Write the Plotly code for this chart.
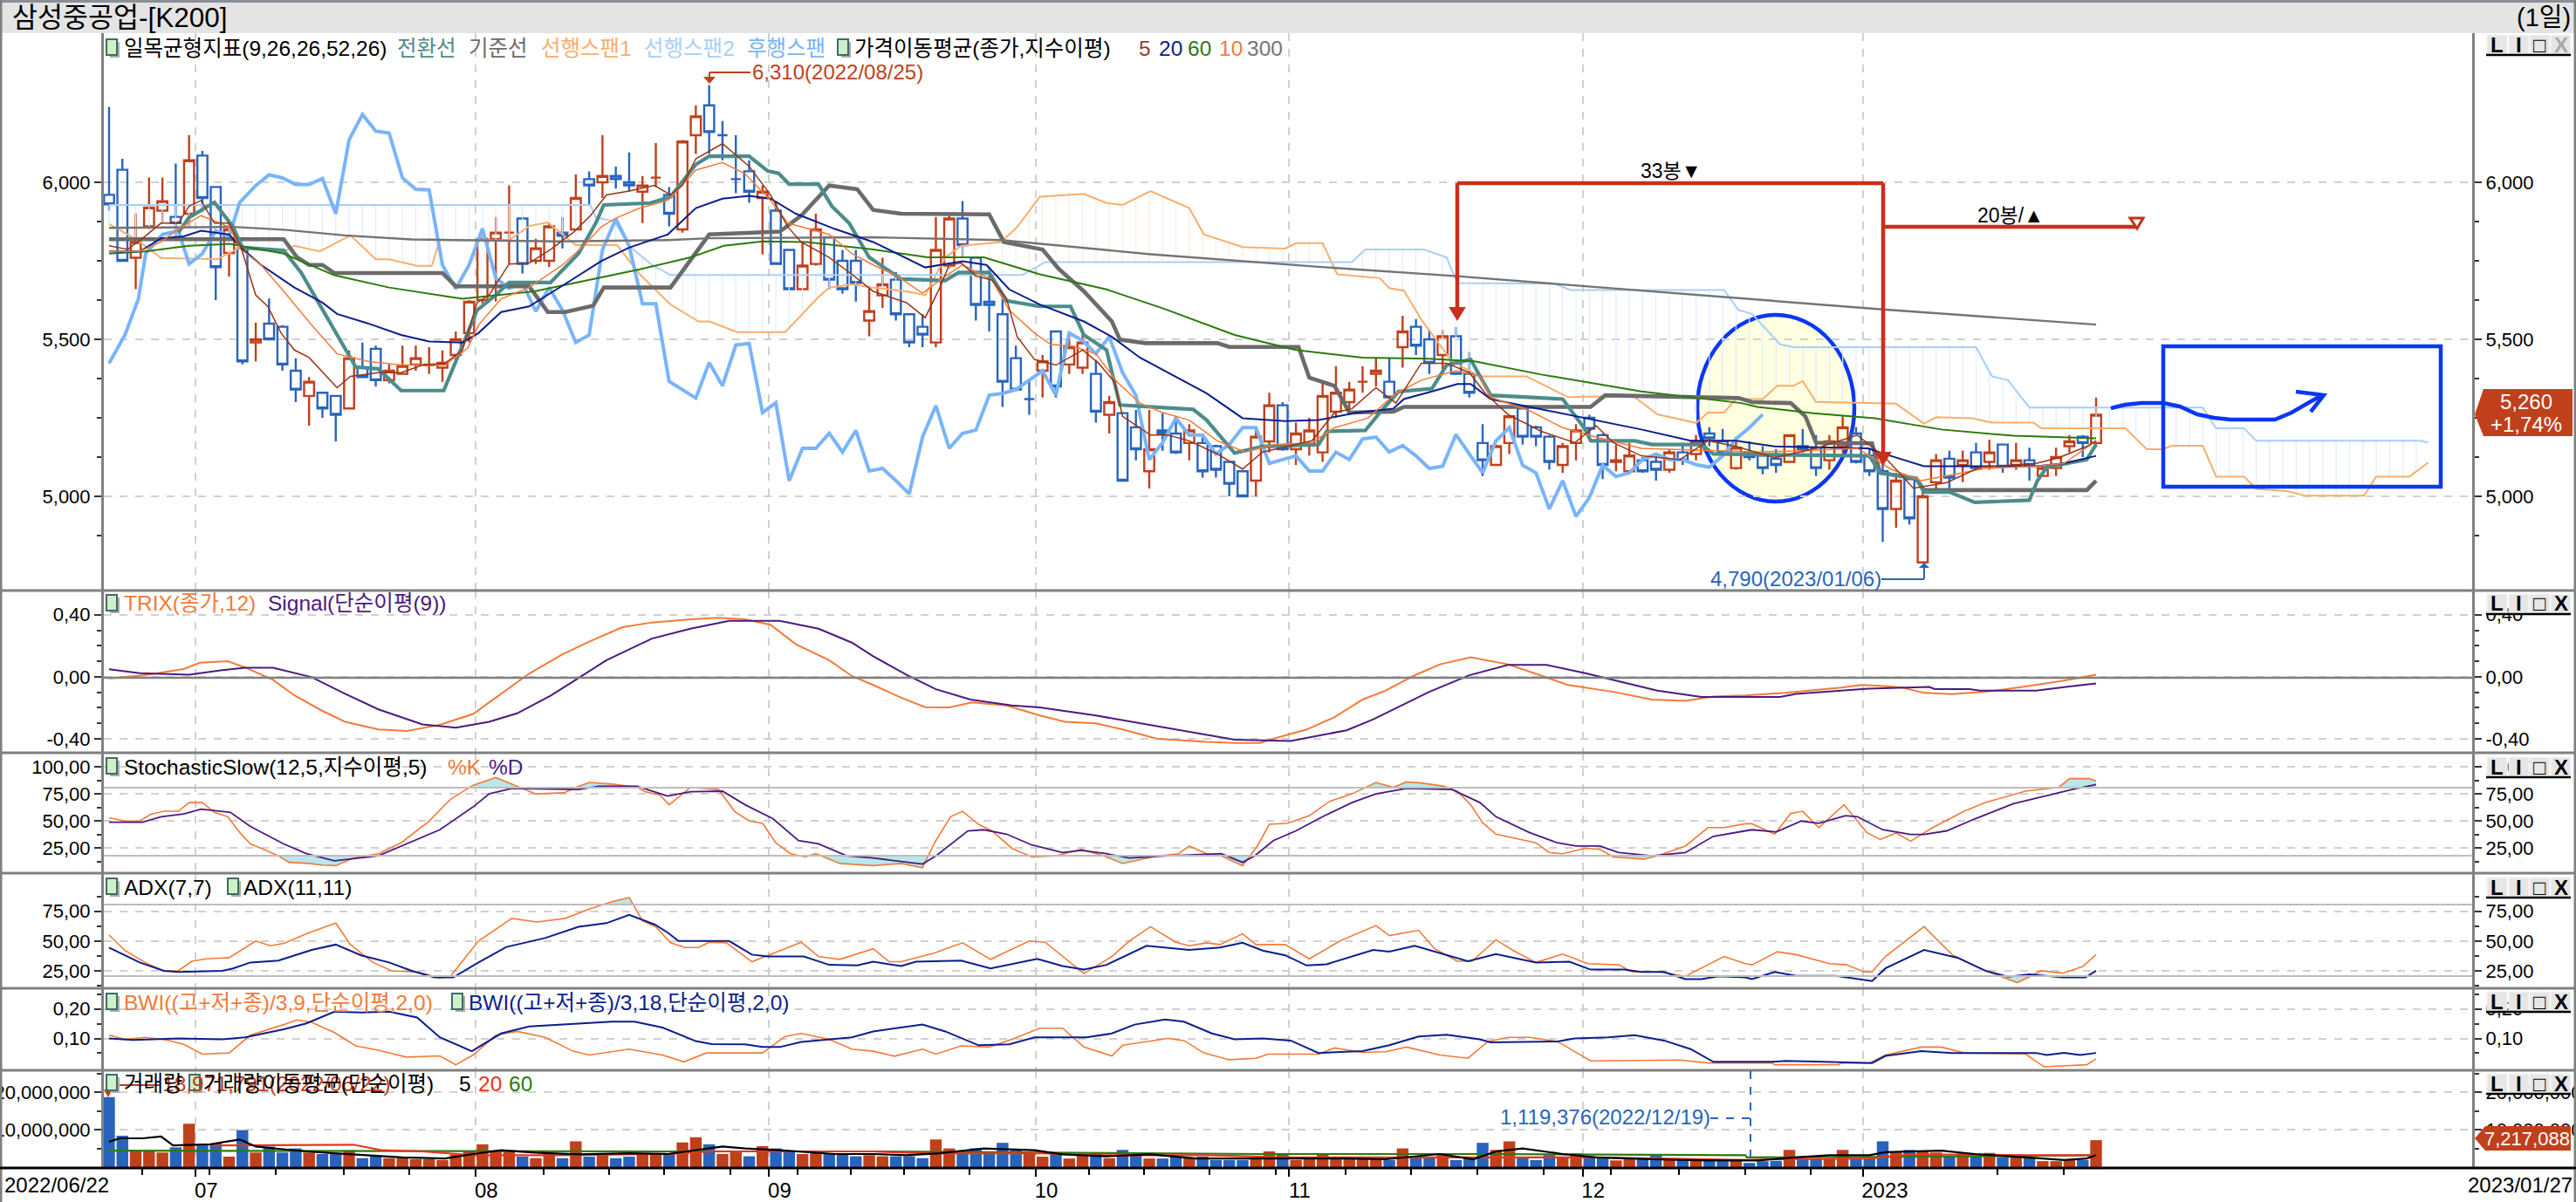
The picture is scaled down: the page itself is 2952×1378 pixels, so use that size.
import numpy as np
import plotly.graph_objects as go

W, H = 2952, 1378
FONT = "Liberation Sans, Noto Sans CJK KR, sans-serif"
RED, BLUE = "#c0401c", "#2864bd"

# ---- candles (won) ----
open_prices = [5960,6040,5760,5860,5910,5890,5900,6085,5985,5775,
 5790,5490,5550,5540,5400,5320,5330,5320,5280,5410,
 5470,5370,5390,5420,5418,5410,5450,5520,5625,5820,
 5840,5885,5750,5750,5840,5850,6010,6000,6020,6000,
 5970,6015,5960,5850,6150,6245,6150,6010,6035,5950,
 5910,5785,5660,5740,5825,5750,5750,5560,5640,5690,
 5580,5540,5490,5735,5885,5760,5620,5580,5440,5310,
 5400,5525,5420,5410,5390,5260,5265,5220,5080,5210,
 5200,5170,5170,5160,5110,5080,5050,5175,5290,5150,
 5165,5140,5270,5300,5365,5390,5365,5475,5540,5500,
 5450,5510,5390,5170,5100,5170,5280,5220,5190,5100,
 5170,5250,5195,5110,5080,5115,5110,5085,5140,5135,
 5200,5175,5090,5140,5130,5120,5110,5160,5155,5115,
 5160,5200,5130,5080,4960,5055,4790,5045,5120,5100,
 5140,5110,5165,5100,5115,5065,5090,5160,5190,5170]
close_prices = [5930,5750,5810,5920,5940,5870,6070,5950,5730,5850,
 5430,5500,5500,5420,5340,5365,5280,5260,5440,5380,
 5370,5400,5415,5440,5420,5425,5500,5620,5820,5840,
 5840,5740,5790,5860,5830,5950,5990,6020,6010,5990,
 5990,6015,5900,6130,6210,6160,6150,6010,5970,5970,
 5740,5660,5735,5850,5690,5660,5680,5590,5675,5580,
 5490,5515,5785,5885,5800,5610,5610,5365,5340,5310,
 5430,5350,5475,5490,5270,5300,5050,5150,5150,5200,
 5140,5210,5080,5085,5040,5000,5190,5290,5150,5200,
 5210,5320,5330,5340,5365,5400,5315,5525,5480,5425,
 5510,5390,5330,5115,5160,5255,5190,5190,5110,5160,
 5210,5215,5100,5115,5130,5080,5085,5140,5115,5175,
 5185,5140,5155,5125,5090,5100,5195,5150,5090,5175,
 5220,5110,5080,4960,5050,4930,5000,5115,5060,5115,
 5090,5140,5095,5115,5100,5090,5125,5175,5170,5260]
high_prices = [6240,6075,5900,6015,6015,6060,6150,6100,5985,5870,
 5790,5553,5630,5545,5440,5380,5330,5320,5465,5490,
 5480,5420,5480,5480,5475,5465,5525,5625,5850,5890,
 5990,5890,5820,5870,5890,6025,6035,6150,6050,6095,
 6020,6125,5985,6135,6245,6310,6195,6150,6070,5990,
 5940,5785,5810,5900,5825,5785,5785,5665,5760,5715,
 5580,5580,5890,5895,5940,5760,5730,5630,5480,5375,
 5450,5525,5520,5520,5435,5320,5265,5275,5275,5265,
 5255,5230,5200,5165,5110,5080,5220,5330,5300,5235,
 5250,5365,5415,5365,5415,5440,5440,5575,5565,5530,
 5530,5540,5460,5230,5165,5260,5285,5225,5195,5170,
 5230,5260,5200,5165,5170,5125,5130,5150,5170,5195,
 5220,5215,5190,5175,5160,5150,5195,5215,5195,5195,
 5255,5220,5155,5130,5075,5055,5025,5135,5145,5145,
 5170,5180,5165,5170,5155,5095,5155,5195,5195,5315]
low_prices = [5910,5750,5660,5850,5870,5820,5860,5905,5625,5700,
 5420,5430,5500,5400,5300,5225,5250,5175,5280,5380,
 5350,5360,5390,5400,5390,5365,5435,5490,5615,5620,
 5740,5710,5740,5730,5790,5850,5930,5950,5980,5970,
 5870,5985,5860,5840,6090,6090,6070,5965,5935,5770,
 5740,5660,5660,5735,5660,5645,5620,5510,5600,5560,
 5475,5475,5475,5725,5760,5560,5525,5285,5335,5260,
 5315,5315,5390,5390,5235,5200,5050,5115,5025,5145,
 5135,5115,5060,5060,5000,5000,5000,5140,5145,5100,
 5130,5110,5250,5260,5330,5350,5315,5410,5450,5390,
 5390,5390,5315,5065,5100,5135,5165,5160,5085,5075,
 5115,5185,5055,5080,5075,5075,5050,5075,5100,5115,
 5160,5125,5085,5115,5070,5075,5110,5140,5065,5085,
 5140,5105,5065,4855,4900,4910,4790,5025,5015,5045,
 5085,5085,5075,5085,5050,5065,5065,5140,5125,5165]
volume_millions = [18.7,8.4,4.4,4.2,3.9,5.3,11.6,5.8,6.3,2.8,9.9,3.9,5.5,3.9,5.0,3.9,3.5,3.5,4.5,2.4,
 2.9,2.4,2.6,2.1,2.1,1.9,3.4,4.2,6.1,4.2,4.2,2.8,2.4,3.7,2.4,6.9,2.8,3.7,2.4,2.8,
 3.5,3.5,3.5,6.6,8.0,6.1,3.5,4.0,2.9,5.6,5.0,4.2,3.5,4.0,3.5,3.5,2.9,3.2,2.9,2.9,
 2.9,2.4,7.4,5.0,4.0,5.0,4.2,6.5,4.5,4.0,2.8,3.7,2.3,3.4,3.7,2.4,4.6,3.2,2.3,2.3,
 2.8,2.6,2.8,1.9,1.9,1.9,2.6,4.2,3.5,1.9,2.6,3.7,2.6,2.3,2.1,2.6,1.9,5.0,2.4,2.4,
 3.5,1.9,2.3,6.5,4.6,6.9,2.8,1.9,3.2,2.4,3.7,2.4,2.4,1.8,2.4,2.1,3.2,1.9,1.9,1.9,
 2.1,1.6,1.9,1.12,1.6,1.7,4.6,2.3,2.3,2.3,4.6,2.4,2.4,6.9,3.9,4.6,4.2,3.9,2.8,3.7,
 2.8,3.8,2.6,2.6,2.6,1.6,1.6,2.1,1.9,7.217]

# ---- ichimoku ----
tenkan_x = [5.2,6,7.9,9.3,10,13.1,14.4,16.2,17,18.5,20.2,21.9,25.1,27.6,29,30,33.1,35.2,36.5,37.1,40.6,42.1,44,45,48,49.4,50.2,51,53.2,54.2,55.5,57,59.4,62.7,63.7,66,67.3,69.8,72.1,73.1,74.8,75.8,81.3,82.3,84.4,86.5,90.7,91.3,94.2,95.3,96.7,99.2,100.3,102.1,103.6,109,110.7,111.1,114.4,115.7,119.4,120.3,132,132.8,135.5,136.1,138,139.9,144,144.6,145.3,148.3,149]
tenkan_y = [5840,5888,5936,5858,5792,5783,5713,5581,5520,5412,5406,5337,5337,5593,5641,5681,5681,5773,5870,5928,5934,5954,6057,6083,6083,6036,6029,5994,5994,5924,5870,5761,5692,5687,5713,5713,5623,5605,5605,5514,5466,5291,5277,5243,5138,5159,5165,5207,5210,5267,5334,5343,5418,5436,5322,5310,5213,5177,5177,5165,5165,5135,5129,5075,5057,5014,5014,4981,4988,5050,5093,5117,5165]
kijun_x = [0,13.1,14.1,15,16,16.9,25,26,31.5,32.9,34.2,36.3,37.1,42.1,45,50.3,51.9,54,56.1,57.3,59.4,66,67.1,70,71.2,73.1,75.2,75.8,77.7,83.1,84,89.2,90,91.9,93,96.3,97.1,111.1,112.2,122.2,123.2,126.1,127.2,128,132.2,132.8,135.5,136.1,148.3,149]
kijun_y = [5819,5819,5761,5737,5737,5711,5711,5669,5669,5587,5587,5607,5665,5665,5834,5843,5894,5990,5978,5912,5900,5898,5810,5786,5725,5653,5557,5499,5488,5488,5476,5476,5378,5352,5267,5270,5285,5285,5322,5313,5300,5297,5255,5171,5169,5075,5057,5020,5020,5050]
span_a_x = [0,1.4,2.7,3.9,8.1,9.8,13.1,13.9,15.8,18.1,20,21,23.1,24.2,24.8,30,31.5,32.9,35,38.1,39.8,42.1,44.2,45,47.1,50.7,53.2,54,55.7,57.3,59.8,61.2,62.7,63.9,66.9,68.1,69.8,73.1,74.8,76,78.1,81,82.1,85,88.2,89,91,92.1,95.3,96,97.1,98.4,100.7,102.8,106.3,109.4,111.9,114.4,116.1,119,119.9,121.1,122,124,125.1,126.3,127,128,134,136.1,137,139.7,141.2,144.3,144.9,151.2,152.8,154,154.7,157,158,160.1,161,163.3,164.7,169.1,170,172.5,173.9]
span_a_y = [5867,5834,5798,5759,5755,5792,5780,5798,5780,5831,5755,5755,5734,5734,5816,5816,5861,5872,5800,5800,5707,5611,5557,5557,5523,5523,5635,5665,5675,5665,5653,5641,5761,5798,5810,5858,5954,5963,5934,5928,5972,5918,5834,5794,5789,5806,5806,5707,5695,5663,5655,5563,5430,5382,5382,5316,5318,5316,5261,5234,5267,5267,5310,5310,5352,5352,5367,5301,5295,5231,5252,5249,5235,5235,5217,5217,5150,5150,5161,5161,5063,5063,5024,5017,5002,5002,5063,5063,5108]
span_b_x = [0,36.1,36.5,37.9,39,40.7,42.1,68.5,70.2,93.2,94.2,98.6,100.3,101.1,108.4,109.6,121.1,122.2,123.2,125.3,126.3,140,141.2,142.4,144,157,158,160.1,161,173.3,173.9]
span_b_y = [5928,5928,5888,5876,5798,5737,5705,5705,5746,5746,5786,5786,5761,5679,5677,5657,5657,5593,5581,5484,5475,5475,5382,5370,5283,5283,5217,5217,5177,5177,5171]
chikou_x = [0,1.2,2.2,2.75,4,5.2,6,7,8,9,9.8,11,12,13,14,15,16,17,18,19,20,21,22,23,24,25,26,27,28,29,30,31,32,33,34,35,36,37,38,39,40,41,42,44,45,46,47,48,49,50,51,52,53,54,55,56,57,58,59,60,61,62,63,64,65,66,67,68,70,71,72,73,74,75,76,77,78,79,80,81,82,83,84,85,86,87,88,89,90,91,92,93,94,95,96,97,98,99,100,101,102,103,104,105,106,107,108,109,110,111,112,113,114,115,116,117,118,119,120,121,122,123,124]
chikou_y = [5424,5515,5629,5773,5834,5846,5740,5773,5846,5828,5936,5990,6024,6014,5993,5993,6012,5900,6135,6216,6163,6157,6014,5978,5976,5737,5661,5737,5852,5695,5663,5680,5589,5665,5593,5490,5514,5785,5884,5798,5613,5613,5366,5313,5426,5352,5482,5487,5267,5298,5050,5153,5153,5201,5141,5210,5081,5089,5050,5008,5189,5289,5153,5201,5211,5322,5328,5340,5400,5322,5520,5496,5454,5508,5394,5322,5117,5171,5249,5195,5195,5135,5165,5219,5219,5105,5117,5129,5081,5081,5141,5117,5183,5189,5141,5162,5129,5089,5096,5197,5135,5075,5177,5219,5099,5075,4960,5050,4936,4996,5099,5063,5075,5117,5135,5117,5117,5101,5093,5129,5183,5219,5261]

# ---- moving averages ----
ma5_x = [0,1.4,2.7,3.9,5.2,6,6.9,7.9,9,9.9,11,11.9,12.9,13.9,15,17.1,18.1,20.2,21.9,23.5,25.2,26.5,27.6,28.5,30,31.5,33.1,34.8,36.1,37.3,39,40.9,42.1,43,44,46,48,49.6,50.9,51.9,54,55.7,57.3,59.8,61.2,62.3,63,63.9,65,66.2,67.3,68.1,69.4,71,73,74.2,75.4,76,78.1,79.4,81,83.1,85,86.5,90.2,91.9,93.2,95,96.5,98.4,100.3,102,103.2,104.9,107.4,109.9,111.5,112.8,114.9,117.8,119.9,122,124.9,128,131.1,133.2,135.3,137.8,140.3,144.5,146.2,148.3,149]
ma5_y = [5798,5786,5828,5870,5870,5924,5942,5870,5870,5792,5641,5605,5520,5466,5442,5346,5382,5394,5394,5418,5424,5466,5617,5641,5740,5743,5786,5840,5894,5960,5972,5990,5960,5990,6075,6123,6051,5960,5858,5810,5761,5707,5653,5617,5569,5665,5737,5743,5701,5689,5629,5508,5436,5418,5466,5424,5364,5255,5195,5195,5177,5135,5087,5141,5177,5267,5279,5346,5297,5424,5424,5394,5328,5261,5207,5171,5225,5171,5129,5117,5177,5159,5123,5153,5195,5123,5026,5044,5093,5105,5123,5159,5177]
ma10_x = [0,2.3,3.9,5.2,6.9,9,9.9,11.4,13.1,15.2,17.1,19.4,21.9,25.2,26.9,27.7,29.4,31.5,34,35.6,36.9,38.1,39.8,41.9,44,46,47.7,49.6,50.9,54,55.7,57.3,59.1,61,62.5,64,66.2,67.5,69.4,70.6,72.3,74,75.6,77.3,79,81,83.1,85.2,87.3,90.2,91.9,94.4,96.5,98.4,101,102.8,103.6,106.5,109,111.5,114.9,119,123.6,127.8,131.1,133.6,135.9,138.2,140.7,144.5,146.6,149]
ma10_y = [5780,5780,5810,5852,5894,5858,5786,5737,5653,5545,5454,5430,5418,5418,5472,5545,5629,5665,5737,5798,5858,5888,5918,5942,6039,6063,6027,5942,5870,5834,5773,5737,5701,5647,5695,5737,5689,5593,5520,5484,5478,5454,5364,5297,5267,5243,5177,5141,5165,5171,5219,5249,5328,5370,5400,5382,5316,5273,5219,5189,5153,5147,5141,5147,5153,5087,5050,5069,5089,5096,5105,5177]
ma20_x = [0,2.3,3.9,5.6,6.9,9,9.9,11.4,13.9,16,17.1,19.4,21.9,24,26.5,27.7,29.4,31.5,34,36.9,39,41.9,44,46,48,49.6,51.5,54.4,57.3,61.2,64,65.8,67.5,69.8,73.1,75.2,77.3,79.4,82.3,85,88.2,90.7,93.6,96.3,97.1,99.2,101.1,102.1,103.6,106.5,111.5,114.9,118.6,122,124.9,127.8,131.9,133.6,136.1,140.3,144.5,146.6,149]
ma20_y = [5780,5780,5822,5828,5846,5834,5792,5737,5665,5617,5581,5551,5514,5493,5490,5520,5587,5605,5671,5749,5792,5834,5918,5948,5957,5948,5900,5852,5810,5729,5749,5737,5659,5611,5557,5508,5442,5394,5328,5249,5240,5243,5267,5279,5310,5334,5358,5358,5310,5285,5243,5213,5177,5177,5159,5156,5153,5129,5096,5096,5096,5105,5129]
ma60_x = [0,2.7,6,9,13.1,16.9,21,26.5,31.9,35.2,39.8,43.6,46.1,49,52.3,57.3,61.4,65.6,69.8,74.8,79,84.4,89,94,99,102.4,107.4,114.9,122.4,123.6,127.8,132.4,137.4,142.8,149]
ma60_y = [5773,5780,5798,5804,5773,5704,5665,5629,5653,5683,5723,5761,5798,5812,5810,5786,5761,5761,5707,5659,5599,5514,5466,5442,5438,5430,5388,5334,5297,5285,5265,5249,5213,5193,5185]
ma300_x = [0,9.3,13.1,17.7,22.7,33.6,41.9,45,57.3,66.9,78.1,90.7,101.1,115.7,119.4,132.8,149]
ma300_y = [5855,5858,5849,5831,5818,5812,5816,5822,5825,5816,5771,5731,5701,5653,5641,5596,5547]

# ---- TRIX ----
trix_x = [0,2.7,5.6,6.8,8.9,10.2,12.3,13.9,16,17.7,20.2,22.3,24.8,27.3,29.4,31.5,34,36,38.5,40.7,43.6,45.7,47.7,49.6,51.5,54,55.7,57.3,59.4,61.2,63,64.7,67.3,69.8,71.7,74,76,78.6,82.3,84.4,86.3,87.7,89.8,91.9,94,95.7,97.8,99.8,102.1,104.9,107.2,109.4,112.8,115.7,118.2,120.3,122.7,125.7,129.9,131.4,132.8,134.5,136.1,138.2,140.7,143.7,146.6,149]
trix_y = [-.01,.01,.05,.09,.10,.06,-.02,-.12,-.22,-.29,-.34,-.35,-.31,-.24,-.11,.02,.145,.226,.32,.35,.37,.38,.37,.335,.21,.107,.005,-.053,-.135,-.196,-.198,-.165,-.185,-.25,-.29,-.30,-.34,-.40,-.42,-.427,-.427,-.39,-.34,-.26,-.147,-.09,.005,.08,.125,.08,.013,-.053,-.097,-.147,-.155,-.127,-.12,-.104,-.07,-.053,-.058,-.07,-.104,-.112,-.097,-.063,-.025,.013]
signal_x = [0,2.3,6,8.5,10.2,12.3,15.2,17.7,20.2,23.5,26,28.5,30.6,33.1,35.2,37.3,40.7,43.6,46.5,50.3,53.2,55.7,57.3,59.8,62,64.6,67.7,69.8,74,77.3,81.9,84.4,88.6,92.8,94.8,99,102,104.9,107.8,110.7,116.1,119.4,125.3,126.5,131.9,136.5,136.9,139.5,140.3,144.5,147,149]
signal_y = [.048,.023,.013,.043,.058,.058,-.003,-.11,-.21,-.307,-.328,-.29,-.236,-.122,-.008,.107,.246,.31,.36,.36,.31,.22,.132,.013,-.08,-.147,-.185,-.198,-.25,-.30,-.368,-.406,-.414,-.345,-.274,-.097,.01,.076,.076,.023,-.089,-.13,-.13,-.11,-.076,-.066,-.079,-.079,-.089,-.089,-.063,-.043]

# ---- Stochastic ----
stoch_k_x = [0,1.2,2.3,3.1,4.1,5.2,6,7,7.9,8.9,9.8,10.6,11.6,12.7,13.5,15,16,17,18.3,20.2,21.9,24,25.6,27.3,29,30.4,32,34.1,35.2,36,37.7,39.6,40.2,41.3,42,43.6,45.7,46.9,48,49,50,51.1,52.2,53,53.8,54.8,57.3,59.4,61,61.9,63.1,64,65.2,66.2,67.7,69.2,71,72.9,74.6,76,78.6,80.2,81,82.3,83.4,85,86.1,87,88.4,90,91.5,93.2,95,96.3,97.3,98.4,100.1,101.1,102.1,103,104,107,108,109,110.7,111.8,112.8,115.1,116.1,118.2,119.9,121.1,122.7,123.2,124.9,126.1,127,128.2,130.1,131.8,132.8,134,135.1,136.6,139.1,140.7,143.7,146.2,147,148.5,149]
stoch_k_y = [53,50,50,56,59,59,67,67,58,54,39.5,29,24,18,12,11,9.5,9,16,20,30,50,70,83,90,83,75,76,82,85.5,84,81,77,74,65,81,79,59,50,48,30,20,17,20,16,11,9,11,7,30,54,59,47,41,25,17,18,24,18,11,18,20,27,20,18,9,27,47,48,55,68,75,85.5,81,86,85,82,77.5,65,48.5,38,30,21,20,25,24,17,15,18,27,44,44,47.5,47.5,38,57,59,44,65,39.5,33,39,31.5,43,59,67,77.5,81,89,89,87]
stoch_d_x = [0,2.5,3.9,5.6,6.9,9.1,10.6,13.1,14.8,16.9,20.2,21.9,24.8,27.3,28.5,30.2,35.2,36.7,39.6,41.9,43.6,46,47.7,49.8,51.7,53.2,55.3,57.3,61,62,64.4,65.6,67.3,69.2,71.5,72.9,74.8,76.5,79.4,83.4,85,85.9,87.3,89,91,93.2,95,97.3,100.7,102.8,104,106.5,108.6,110,111.8,113.2,115.7,118.2,120.3,122.7,123.2,125,126.9,128.2,130.2,131.1,133,135.1,136.1,137.8,139.9,142.8,145.4,147.2,149]
stoch_d_y = [49,49,54,56.5,61,58,45,29,20,13.4,18,27,42,63,75,80,79,82,82,73,77,77.5,65,52,32,29,18,16,10.5,18,41,42,38,28,21,23,20,16,18,20,12,18,32,41,54,67,75,80,79,67,54,39.5,30,27,27,21,18,21,36,41,42,40,50,48,55,54,42,37.7,37.7,41,52,66,74,79,83.6]

# ---- ADX ----
adx7_x = [0,1.2,2.7,4.1,5.2,6.2,7.3,9,11,12.1,13.1,15,17,18.1,19.8,21.2,23.1,24.8,25.6,27.7,30.2,32.1,34.2,36,37.7,39,40,41,42.1,43.2,44.2,45,46.3,48.2,49.6,51.9,53.2,54.8,57.3,58.5,59.4,61.9,64,66.1,69,70.2,73.1,75.2,76.5,78.1,80,81,82.3,83.3,85,86,88.2,90,92.3,95,96,98.2,99.4,101.1,102.2,104,105.3,107,109,110.9,113.2,114.2,116.3,118.2,121.1,122.7,123.2,125.1,126.5,129,130.3,131.6,132.2,133.2,136.1,138.2,140.7,143.1,144.9,146.5,148,149]
adx7_y = [55,42,32,25,25,33,35,36,50,46,48,57,65,47,32,25,24,19,20.4,50,69,66,69,76.7,83,86.6,67,62,48.5,44.5,44.5,49,48.5,32.6,38.6,49,37,34.6,43.5,32.6,32.6,40,48.5,34.6,50,49,22.7,37,50,62,49,46,48.5,47,56,47,47,35,50,63,54.5,59,43.5,33,33,51,42,32,39,31,30,24,24,20.4,37,31,30,41,38.6,31,30,24,24,37,62,38.6,25,15,25,23,28.6,38.6]
adx11_x = [0,2.3,4.1,5.2,8.5,9.3,10.6,12.7,15.2,17,18.9,21,22.7,24.4,25.8,27.7,29.8,32.7,35.2,37.3,39,40.9,41.9,42.7,46.5,48.2,49.4,52.1,54,56.1,57.3,59.4,60.5,63.9,66.1,69.6,71.5,73.1,74.8,77.8,81,83.3,85,86.5,88.2,89.8,91.3,94.8,96,97.9,101.9,104,107,109.5,111.1,113.6,114.9,116.6,118.2,119.4,120.7,122.7,123.2,124.9,126.5,129.5,132.2,133.2,136.1,138.6,140.7,142.4,144,146.5,148.2,149]
adx11_y = [44.5,32,25,24,25,27,32,33.6,42.5,47,38,32,25,19.4,19.4,32,45,52.5,62,65,72,64,57,50,50,38.6,37,37,30,29.5,32.6,29,32.6,33.6,27,35,29,26,30,46,42.5,44.5,48.5,42,38,29.5,30.5,42.5,41,46,33,39,32,32.6,26,26,24,24,18,18,20.4,19.4,18,24,20.7,20.7,16.4,27,42.5,36,25,20,22,19.4,19.4,25]

# ---- BWI ----
bwi9_x = [0,1.2,2.7,4.3,5.6,7,9,10.6,13.1,14.1,15.2,16.9,18.5,20.2,22.3,24.8,26,27.3,29,30.6,32.7,34.8,36,39,41.5,43.1,44.8,49,50.7,51.9,54,55.7,57.3,58.9,61,62,63.9,66,67.7,69.8,71.5,73.1,75.2,76,79.4,80.6,82.1,84,86,86.9,90.7,91.9,94,95.7,97.3,99.8,101.9,103.4,104.9,106.5,108.6,111.1,117.8,119.9,124.7,124.9,129.7,129.9,132,133.2,135.9,137.4,139.1,143.7,145.1,148.3,149]
bwi9_y = [.111,.097,.104,.095,.08,.047,.051,.111,.147,.163,.155,.12,.075,.06,.037,.041,.011,.044,.111,.124,.104,.057,.044,.064,.044,.021,.051,.051,.107,.117,.097,.064,.057,.04,.064,.047,.075,.071,.097,.135,.135,.071,.041,.077,.10,.093,.051,.028,.033,.047,.047,.068,.053,.055,.071,.044,.033,.09,.104,.104,.09,.024,.027,.017,.017,.011,.011,.017,.017,.044,.071,.071,.051,.048,.004,.011,.031]
bwi18_x = [0,1.8,5.2,8.5,10.2,13.1,14.8,16.9,18.9,21,23.1,24.8,27.2,29.4,31.5,34,37.7,39.4,41.5,44,45.2,47.7,49,50.3,51.9,55.7,57.3,61,62.7,65.2,67.5,69.4,73.3,75.2,76.9,79.2,80.6,82.7,84.4,86.5,88.6,90.7,94,96,98.2,100.3,102.8,103.6,108.6,109.9,112.4,114.4,116.6,118.6,120.3,124.7,125.7,128.6,132.2,133.2,135.9,138.2,144.5,145.3,146.6,147.8,149]
bwi18_y = [.10,.095,.10,.097,.104,.131,.151,.191,.188,.191,.171,.104,.057,.117,.141,.147,.157,.157,.137,.091,.081,.08,.071,.071,.088,.104,.124,.147,.124,.077,.08,.104,.104,.117,.147,.164,.157,.117,.097,.10,.093,.051,.057,.077,.107,.113,.097,.087,.09,.10,.104,.111,.093,.064,.021,.021,.024,.021,.017,.041,.057,.051,.051,.044,.051,.044,.051]

# ---- volume moving averages (millions) ----
vol_ma5_x = [0,.8,2.5,3.9,4.8,6,7.6,9.8,11,12.7,14.8,16.9,19,22,25.2,27.3,29.4,31.9,35.2,39,41.9,44,46,47.7,50.3,54.4,57.3,59.8,62.3,65.6,69.4,71.5,74.8,78.1,81.5,86.5,92.8,95.7,99.8,102.3,104,106,109,111.5,115.7,119.9,123.6,126.5,129,132,133.2,137.4,139.9,144.5,146.6,148.3,149]
vol_ma5_y = [6.8,7.7,7.7,8.2,5.8,6,6.1,7.4,5.5,4.9,4.2,3.7,3.2,2.6,2.3,3.5,4.5,3.9,3.4,3.7,3.5,4.5,5.5,5,4.5,3.5,3.5,3.2,3.7,5,4.5,3.4,2.9,3.4,2.3,2.3,2.3,2.1,3.5,2.1,4.2,5,3.5,2.6,2.1,1.8,1.8,2.6,3.2,3.2,4,4.4,3.5,2.4,1.9,2.3,3.2]
vol_ma20_x = [7.7,18.3,20.5,23.5,27.3,33.6,41.9,45.2,57.3,61.4,69.8,74,82.3,88.6,103.2,111.5,122.7,124.9,132,135.2,144.5,149]
vol_ma20_y = [5.8,6,4.5,4.2,3.2,3.2,3.5,4.2,4.2,3.7,3.7,3.2,3.2,2.6,2.6,2.6,1.9,2.1,2.3,3.4,3.2,3.2]
vol_ma60_x = [0,23.5,41.9,57.3,69.8,86.5,103.2,122.7,122.8,136.1,149]
vol_ma60_y = [4.4,4.2,4.2,4.2,3.9,3.5,3.5,3.2,2.6,2.8,3.2]

# ---- axes ----
month_ticks = [6.5,27.5,49.5,69.5,88.5,110.5,131.5]
month_labels = ["07","08","09","10","11","12","\u00a0\u00a0\u00a0\u00a02023"]
week_ticks = [2.5,7.5,12.5,17.6,22.5,32.6,37.5,41.6,46.6,51.6,55.6,59.6,64.5,73.5,77.6,82.5,87.5,92.7,97.6,102.6,107.6,112.6,117.7,122.7,127.6,141.6,146.6]

panels = [
 dict(top=38, bot=676, rng=[4703.0,6475.0], vals=[5000,5500,6000], text=["5,000","5,500","6,000"], minor=[4875,5125,5250,5375,5625,5750,5875]),
 dict(top=677, bot=863, rng=[-0.49,0.556], vals=[-0.4,0,0.4], text=["-0,40","0,00","0,40"], minor=[-.3,-.2,-.1,.1,.2,.3]),
 dict(top=863, bot=1001, rng=[2.1,112.8], vals=[25,50,75,100], text=["25,00","50,00","75,00","100,00"], minor=[12.5,37.5,62.5,87.5]),
 dict(top=1001, bot=1133, rng=[10.3,107], vals=[25,50,75], text=["25,00","50,00","75,00"], minor=[12.5,37.5,62.5,87.5]),
 dict(top=1133, bot=1227, rng=[-0.0077,0.27], vals=[0.1,0.2], text=["0,10","0,20"], minor=[.05,.15,.25]),
 dict(top=1227, bot=1338, rng=[0,25.9], vals=[10,20], text=["10,000,000","20,000,000"], minor=[5,15,25]),
]

fig = go.Figure()
idx = list(range(150))


def line(xs, ys, color, width, ax, name=""):
    fig.add_trace(go.Scatter(x=xs, y=ys, mode="lines", line=dict(color=color, width=width),
                             yaxis=ax, hoverinfo="skip", showlegend=False, name=name))


# hatch between the two cloud spans
grid_c = np.arange(0, 174)
sa = np.interp(grid_c, span_a_x, span_a_y)
sb = np.interp(grid_c, span_b_x, span_b_y)
for cond, col in ((sa > sb, "#fdebd8"), (sb >= sa, "#dfecfc")):
    hx, hy = [], []
    for i, c in zip(grid_c, cond):
        if c:
            hx += [i, i, None]
            hy += [sa[i], sb[i], None]
    line(hx, hy, col, 1.2, "y")

fig.add_trace(go.Candlestick(
    x=idx, open=open_prices, high=high_prices, low=low_prices, close=close_prices,
    increasing=dict(line=dict(color=RED, width=2.4), fillcolor="rgba(0,0,0,0)"),
    decreasing=dict(line=dict(color=BLUE, width=2.4), fillcolor="rgba(0,0,0,0)"),
    whiskerwidth=0, hoverinfo="skip", showlegend=False, yaxis="y"))

line(span_a_x, span_a_y, "#f9ae6b", 2, "y")
line(span_b_x, span_b_y, "#a8cffa", 2, "y")
line(chikou_x, chikou_y, "#79b4fc", 4, "y")
line(kijun_x, kijun_y, "#6b6b6b", 4.6, "y")
line(tenkan_x, tenkan_y, "#4d8c8c", 4.2, "y")
line(ma300_x, ma300_y, "#747474", 2.4, "y")
line(ma60_x, ma60_y, "#2c7a0c", 2, "y")
line(ma20_x, ma20_y, "#0a1e8c", 2, "y")
line(ma10_x, ma10_y, "#f47a36", 1.5, "y")
line(ma5_x, ma5_y, "#9a3412", 1.5, "y")

line(trix_x, trix_y, "#f47a36", 2, "y3")
line(signal_x, signal_y, "#4b1a80", 2, "y3")


def zones(xs, ys, low, high, ax):
    g = np.arange(0, 149.01, 0.25)
    v = np.interp(g, xs, ys)
    for level, clipped in ((high, np.maximum(v, high)), (low, np.minimum(v, low))):
        fig.add_trace(go.Scatter(x=g, y=np.full_like(g, level), mode="lines", line=dict(width=0),
                                 yaxis=ax, hoverinfo="skip", showlegend=False))
        fig.add_trace(go.Scatter(x=g, y=clipped, mode="lines", line=dict(width=0), fill="tonexty",
                                 fillcolor="#b8e8ea", yaxis=ax, hoverinfo="skip", showlegend=False))


zones(stoch_k_x, stoch_k_y, 19, 81, "y5")
line(stoch_k_x, stoch_k_y, "#f47a36", 1.6, "y5")
line(stoch_d_x, stoch_d_y, "#4b1a80", 1.8, "y5")

zones(adx7_x, adx7_y, 20.4, 80.6, "y7")
line(adx7_x, adx7_y, "#f47a36", 1.6, "y7")
line(adx11_x, adx11_y, "#0a1e8c", 2, "y7")

line(bwi9_x, bwi9_y, "#f47a36", 1.6, "y9")
line(bwi18_x, bwi18_y, "#0a1e8c", 2, "y9")

vol_colors = [RED if c >= o else BLUE for o, c in zip(open_prices, close_prices)]
fig.add_trace(go.Bar(x=idx, y=volume_millions, marker=dict(color=vol_colors, line=dict(width=0)), width=0.88,
                     yaxis="y11", hoverinfo="skip", showlegend=False))
line(vol_ma60_x, vol_ma60_y, "#2c7a0c", 2.2, "y11")
line(vol_ma20_x, vol_ma20_y, "#e8341c", 2.2, "y11")
line(vol_ma5_x, vol_ma5_y, "#000000", 2.2, "y11")

tickfont = dict(family=FONT, size=22, color="#000")
layout_axes = {}
GRID = "#d0d0d0"
for n, p in enumerate(panels):
    dom = [1 - p["bot"] / H, 1 - p["top"] / H]
    left = f"yaxis{'' if n == 0 else 2 * n + 1}"
    right = f"yaxis{2 * n + 2}"
    common = dict(domain=dom, range=p["rng"], tickmode="array", tickvals=p["vals"], ticktext=p["text"],
                  tickfont=tickfont, ticks="outside", ticklen=8, tickcolor="#333", tickwidth=2, automargin=False,
                  showline=True, linecolor="#808080", linewidth=3, zeroline=False,
                  minor=dict(tickmode="array", tickvals=p["minor"], ticks="outside", ticklen=5,
                             tickcolor="#333", tickwidth=2, showgrid=False))
    layout_axes[left] = dict(common, side="left", anchor="x", showgrid=True, gridcolor=GRID, griddash="dash", gridwidth=2)
    layout_axes[right] = dict(common, side="right", overlaying=left.replace("yaxis", "y"), anchor="x", showgrid=False)
    fig.add_trace(go.Scatter(x=[0], y=[p["vals"][0]], mode="none", yaxis=f"y{2 * n + 2}",
                             hoverinfo="skip", showlegend=False))

# ---- pixel helpers for drawn objects ----
px = lambda v: v / W
py = lambda v: 1 - v / H
shapes, notes = [], []


def rect(x0, y0, x1, y1, fill=None, color=None, width=0, layer="above"):
    shapes.append(dict(type="rect", xref="paper", yref="paper", x0=px(x0), x1=px(x1), y0=py(y1), y1=py(y0),
                       fillcolor=fill or "rgba(0,0,0,0)", line=dict(color=color or "rgba(0,0,0,0)", width=width), layer=layer))


def seg(x0, y0, x1, y1, color, width, dash="solid", layer="above"):
    shapes.append(dict(type="line", xref="paper", yref="paper", x0=px(x0), x1=px(x1), y0=py(y0), y1=py(y1),
                       line=dict(color=color, width=width, dash=dash), layer=layer))


def poly(pts, fill=None, color=None, width=0, closed=True):
    d = "M " + " L ".join(f"{px(x):.5f},{py(y):.5f}" for x, y in pts) + (" Z" if closed else "")
    shapes.append(dict(type="path", xref="paper", yref="paper", path=d, fillcolor=fill or "rgba(0,0,0,0)",
                       line=dict(color=color or "rgba(0,0,0,0)", width=width), layer="above"))


def text(x, y, s, color="#000", size=24.5, anchor="left", family=FONT):
    notes.append(dict(xref="paper", yref="paper", x=px(x), y=py(y), text=s, showarrow=False, xanchor=anchor,
                      yanchor="middle", font=dict(family=family, size=size, color=color), borderpad=0, borderwidth=0))


def icon(x, yc):
    rect(x + 4, yc - 7, x + 15, yc + 11, fill="#aaaaaa")
    rect(x, yc - 10, x + 12, yc + 8, fill="#cdf0c8", color="#3f6a68", width=2)


# frame
rect(0, 0, W, 38, fill="#e4e4e4", layer="below")
rect(0, 0, W, 3, fill="#8a9098")
seg(1, 0, 1, 1378, "#808080", 3)
seg(2951, 0, 2951, 1378, "#808080", 3)
for y in (677, 863, 1001, 1133, 1227):
    seg(0, y, W, y, "#808080", 3)
seg(0, 1339, W, 1339, "#000000", 3)
seg(119, 777, 2833, 777, "#808080", 2.5)
for y_val in (903, 981):
    seg(119, y_val, 2833, y_val, "#bdbdbd", 2)
for y_val in (1037, 1119):
    seg(119, y_val, 2833, y_val, "#bdbdbd", 2)

# title
text(14, 20, "삼성중공업-[K200]", size=31.5)
text(2946, 20, "(1일)", size=29, anchor="right")

# legends
icon(122, 55)
text(142, 55, "일목균형지표(9,26,26,52,26)")
text(455, 55, "전환선", "#4d8c8c")
text(537, 55, "기준선", "#6b6b6b")
text(620, 55, "선행스팬1", "#f9ae6b")
text(738, 55, "선행스팬2", "#a8cffa")
text(856, 55, "후행스팬", "#79b4fc")
icon(960, 55)
text(979, 55, "가격이동평균(종가,지수이평)")
text(1305, 55, "5", "#a03b1b")
text(1328, 55, "20", "#0a1e8c")
text(1361, 55, "60", "#2c7a0c")
text(1397, 55, "10", "#f47a36")
text(1429, 55, "300", "#747474")

icon(122, 692)
text(142, 692, "TRIX(종가,12)", "#f47a36")
text(307, 692, "Signal(단순이평(9))", "#4b1a80")
icon(122, 879)
text(142, 879, "StochasticSlow(12,5,지수이평,5)")
text(513, 879, "%K", "#f47a36")
text(560, 879, "%D", "#4b1a80")
icon(122, 1017)
text(142, 1017, "ADX(7,7)")
icon(261, 1017)
text(279, 1017, "ADX(11,11)")
icon(122, 1149)
text(142, 1149, "BWI((고+저+종)/3,9,단순이평,2,0)", "#f47a36")
icon(518, 1149)
text(537, 1149, "BWI((고+저+종)/3,18,단순이평,2,0)", "#0a1e8c")
text(186, 1242, "18,971,791(2022/06/22)", RED)
seg(124, 1244, 184, 1244, RED, 2)
poly([(119, 1249), (129, 1249), (124, 1258)], fill=RED)
icon(122, 1242)
text(142, 1242, "거래량")
icon(217, 1242)
text(233, 1242, "거래량이동평균(단순이평)")
text(526, 1242, "5")
text(548, 1242, "20", "#e8341c")
text(583, 1242, "60", "#2c7a0c")

# dates
text(5, 1358, "2022/06/22", size=24)
text(2948, 1358, "2023/01/27", size=24, anchor="right")

# highs / lows
text(862, 82, "6,310(2022/08/25)", RED, size=24)
seg(813, 83, 860, 83, RED, 2)
seg(813, 83, 813, 91, RED, 2)
poly([(806, 88), (820, 88), (813, 96)], fill=RED)
text(1960, 663, "4,790(2023/01/06)", BLUE, size=24)
seg(2156, 664, 2205, 664, BLUE, 2)
seg(2205, 664, 2205, 650, BLUE, 2)
poly([(2199, 651), (2211, 651), (2205, 645)], fill=BLUE)
text(1719, 1280, "1,119,376(2022/12/19)", BLUE, size=24)
seg(1960, 1282, 2006, 1282, BLUE, 2, "dash")
seg(2006, 1228, 2006, 1338, BLUE, 2, "dash")

# hand drawn objects
LR, LB = "#c8301a", "#0a37f5"
shapes.append(dict(type="circle", xref="paper", yref="paper", x0=px(1945), x1=px(2125), y0=py(575), y1=py(361),
                   fillcolor="#fefee0", line=dict(color=LB, width=4.5), layer="below"))
seg(1670, 210, 1670, 352, LR, 4.5)
seg(1670, 210, 2158, 210, LR, 4.5)
seg(2158, 210, 2158, 522, LR, 4.5)
seg(2158, 260, 2447, 260, LR, 4.5)
poly([(1662, 353), (1678, 353), (1670, 366)], fill=LR, color=LR, width=2)
poly([(2150, 519), (2166, 519), (2158, 532)], fill=LR, color=LR, width=2)
poly([(2441, 250), (2456, 250), (2449, 262)], fill="#ffffff", color=LR, width=3)
text(1915, 196, "33봉▼", size=23, anchor="center")
text(2304, 247, "20봉/▲", size=23, anchor="center")
rect(2479, 397, 2797, 558, color=LB, width=4.5)
poly([(2419, 468), (2435, 464), (2454, 462), (2479, 462), (2498, 466), (2518, 475), (2537, 479), (2556, 481),
      (2607, 481), (2626, 473), (2645, 462), (2661, 453)], color=LB, width=4.5, closed=False)
poly([(2631, 449), (2663, 453), (2648, 472)], color=LB, width=4.5, closed=False)

# price tags
poly([(2836, 475), (2846, 446), (2948, 446), (2948, 500), (2846, 500)], fill=RED)
text(2895, 460, "5,260", "#fff", size=24, anchor="center")
text(2895, 486, "+1,74%", "#fff", size=24, anchor="center")
poly([(2836, 1305), (2848, 1291), (2946, 1291), (2946, 1319), (2848, 1319)], fill=RED)
text(2896, 1305, "7,217,088", "#fff", size=22, anchor="center")


# panel buttons
def buttons(y0, last_color):
    for x0, label, col in ((2850, "L", "#000"), (2875, "I", "#000"), (2899, "□", "#000"), (2923, "X", last_color)):
        rect(x0, y0, x0 + 23, y0 + 22, fill="#e6e6e6", color="#f5f5f5", width=1)
        text(x0 + 11.5, y0 + 11, f"<b>{label}</b>", col, size=24, anchor="center",
             family="Liberation Sans, Noto Sans CJK KR")
    seg(2849, y0 + 23, 2946, y0 + 23, "#000", 2.5)


buttons(40, "#a8a8a8")
for yb in (681, 868, 1006, 1137, 1231):
    buttons(yb, "#000")

fig.update_layout(
    template="none",
    width=W, height=H, autosize=False, margin=dict(l=0, r=0, t=0, b=0, pad=0, autoexpand=False),
    paper_bgcolor="#ffffff", plot_bgcolor="rgba(0,0,0,0)", showlegend=False,
    boxgap=0.25, boxgroupgap=0, barmode="overlay",
    xaxis=dict(domain=[119 / W, 2833 / W], range=[-0.39, 177.2], anchor="y11", rangeslider=dict(visible=False),
               automargin=False,
               tickmode="array", tickvals=month_ticks, ticktext=month_labels, ticks="outside", ticklen=10, tickwidth=2,
               tickcolor="#000", tickfont=dict(family=FONT, size=24, color="#000"), ticklabelshift=12,
               ticklabelstandoff=-5,
               showgrid=True, gridcolor=GRID, griddash="dash", gridwidth=2, zeroline=False, showline=False,
               minor=dict(tickmode="array", tickvals=week_ticks, ticks="outside", ticklen=8, tickwidth=2,
                          tickcolor="#000", showgrid=False)),
    shapes=shapes, annotations=notes, **layout_axes)

fig.write_html("out.html", config=dict(displayModeBar=False),
               post_script="document.body.style.margin='0';document.body.style.overflow='hidden';")
